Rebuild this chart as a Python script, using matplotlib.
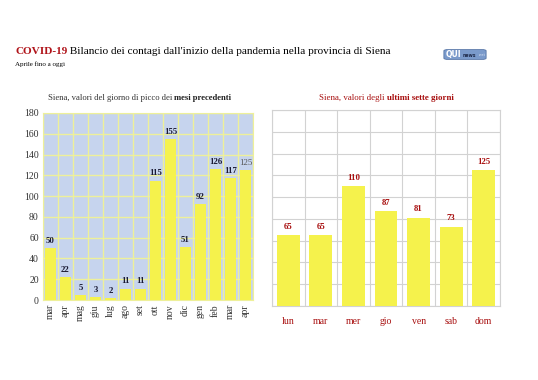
import matplotlib.pyplot as plt
from matplotlib.patches import FancyBboxPatch

plt.rcParams['font.family'] = ['Liberation Serif', 'DejaVu Serif']

mesi = ["mar", "apr", "mag", "giu", "lug", "ago", "set", "ott", "nov",
        "dic", "gen", "feb", "mar", "apr"]
picchi = [50, 22, 5, 3, 2, 11, 11, 115, 155, 51, 92, 126, 117, 125]

giorni = ["lun", "mar", "mer", "gio", "ven", "sab", "dom"]
ultimi = [65, 65, 110, 87, 81, 73, 125]

yticks = list(range(0, 181, 20))

YELLOW = "#f5f24c"
RED = "#a80f0f"

fig = plt.figure(figsize=[5.38, 3.80], dpi=100)
fig.patch.set_facecolor("white")

# title block
t = fig.text(15 / 538, 1 - 51 / 380, "COVID-19", color="#b0141a", fontsize=8.1,
             fontweight="bold", va="center")
fig.add_artist(plt.Annotation(" Bilancio dei contagi dall'inizio della pandemia nella provincia di Siena",
                              xy=(1, 0.5), xycoords=t, va="center", fontsize=8.1))
fig.text(15 / 538, 1 - 64 / 380, "Aprile fino a oggi", fontsize=5, va="center")

# logo
logo = fig.add_axes([443 / 538, 1 - 60 / 380, 44 / 538, 11 / 380])
logo.axis("off")
logo.add_patch(FancyBboxPatch((0.02, 0.05), 0.96, 0.9, boxstyle="round,pad=0,rounding_size=0.1",
                              fc="#7a9acb", ec="#4a6a9e", lw=0.5, transform=logo.transAxes))
logo.text(0.05, 0.5, "QUI", color="white", fontsize=5.5, fontweight="bold",
          family="DejaVu Sans", va="center", transform=logo.transAxes)
logo.text(0.44, 0.45, "news", color="#1e2a4a", fontsize=3.3, fontweight="bold",
          family="DejaVu Sans", va="center", transform=logo.transAxes)
logo.text(0.8, 0.45, ".net", color="#e0e8f6", fontsize=2.5,
          family="DejaVu Sans", va="center", transform=logo.transAxes)

# left chart: monthly peaks
ax1 = fig.add_axes([43 / 538, 1 - 300 / 380, 210 / 538, 187 / 380])
x1 = range(len(mesi))
ax1.set_facecolor("#c6d4ee")
ax1.bar(x1, picchi, width=0.72, color=YELLOW, zorder=3)
ax1.set_xlim(-0.5, len(mesi) - 0.5)
ax1.set_ylim(0, 180)
ax1.set_yticks(yticks)
ax1.set_xticks(list(x1))
ax1.set_xticklabels(mesi, rotation=90)
ax1.set_xticks([i - 0.5 for i in range(len(mesi) + 1)], minor=True)
ax1.grid(False)
ax1.yaxis.grid(True, color="#eef09a", lw=1, zorder=1)
ax1.xaxis.grid(True, which="minor", color="#eef09a", lw=1, zorder=1)
ax1.tick_params(axis="both", which="both", length=0, labelsize=7, colors="#333333", pad=3)
for s in ax1.spines.values():
    s.set_color("#eef09a")
for i, v in enumerate(picchi):
    last = i == len(picchi) - 1
    ax1.text(i, v + 3, str(v), ha="center", va="bottom", fontsize=6.3,
             fontweight="normal" if last else "bold",
             color="#555555" if last else "#1a1a33", zorder=4)

s1 = fig.text(48 / 538, 1 - 98 / 380, "Siena, valori del giorno di picco dei ",
              fontsize=6.2, color="#333333", va="center")
fig.add_artist(plt.Annotation("mesi precedenti", xy=(1, 0), xycoords=s1, va="bottom",
                              fontsize=6.2, fontweight="bold", color="#222222"))

# right chart: last seven days
ax2 = fig.add_axes([272 / 538, 1 - 306 / 380, 228 / 538, 196 / 380])
x2 = range(len(giorni))
ax2.bar(x2, ultimi, width=0.7, color=YELLOW, zorder=3)
ax2.set_xlim(-0.5, len(giorni) - 0.5)
ax2.set_ylim(0, 180)
ax2.set_yticks(yticks)
ax2.set_yticklabels([])
ax2.set_xticks(list(x2))
ax2.set_xticklabels(giorni)
ax2.set_xticks([i - 0.5 for i in range(len(giorni) + 1)], minor=True)
ax2.yaxis.grid(True, color="#d2d2d2", lw=0.8, zorder=1)
ax2.xaxis.grid(True, which="minor", color="#d2d2d2", lw=0.8, zorder=1)
ax2.tick_params(axis="both", which="both", length=0, labelsize=7, colors=RED, pad=8)
for s in ax2.spines.values():
    s.set_color("#d2d2d2")
for i, v in enumerate(ultimi):
    ax2.text(i, v + 4, str(v), ha="center", va="bottom", fontsize=6.3,
             fontweight="bold", color=RED, zorder=4)

s2 = fig.text(319 / 538, 1 - 98 / 380, "Siena, valori degli ",
              fontsize=6.4, color=RED, va="center")
fig.add_artist(plt.Annotation("ultimi sette giorni", xy=(1, 0), xycoords=s2, va="bottom",
                              fontsize=6.4, fontweight="bold", color=RED))

plt.savefig("out.png", dpi=100)
